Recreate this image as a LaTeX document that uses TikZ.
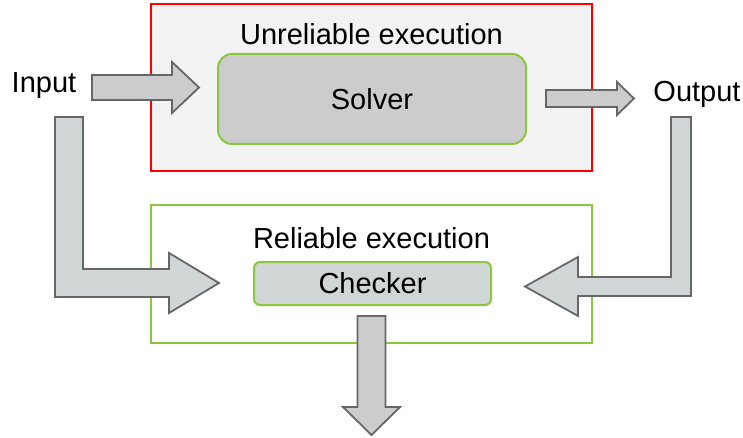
\documentclass[tikz,border=0pt]{standalone}
\usepackage{fontspec}
\setmainfont{Liberation Sans}
\definecolor{boxgray}{HTML}{F2F2F2}
\definecolor{solvergray}{HTML}{CCCCCC}
\definecolor{checkgray}{HTML}{D0D5D5}
\definecolor{lime}{HTML}{8CC63F}
\definecolor{edgegray}{HTML}{666666}
\tikzset{
  lbl/.style={font=\fontsize{29}{34}\selectfont, inner sep=0pt, anchor=base},
  region/.style={draw, inner sep=0pt},
  proc/.style={draw=lime, line width=2pt, inner sep=0pt, font=\fontsize{29}{34}\selectfont},
  blockarrow/.style={draw=edgegray, line width=1.8pt, line join=miter}
}
\begin{document}
\begin{tikzpicture}[x=1pt,y=-1pt]
\useasboundingbox[fill=white] (0,0) rectangle (743,438);
% regions
\node[region, draw=red, line width=1.8pt, fill=boxgray, minimum width=441pt, minimum height=167pt] (unrel) at (371.5,87.5) {};
\node[region, draw=lime, line width=1.5pt, minimum width=441pt, minimum height=138pt] (rel) at (371.5,274) {};
% titles
\node[lbl] (unreltitle) at (371.5,45) {Unreliable execution};
\node[lbl] (reltitle) at (371.5,248) {Reliable execution};
% processes
\node[proc, fill=solvergray, rounded corners=14pt, minimum width=308pt, minimum height=90pt] (solver) at (372,99) {Solver};
\node[proc, fill=checkgray, rounded corners=6pt, minimum width=237pt, minimum height=43pt] (checker) at (372.5,283.5) {Checker};
% io labels
\node[lbl] (input) at (44,93) {Input};
\node[lbl] (output) at (697,102) {Output};
% block arrows
\draw[blockarrow, fill=solvergray] (92,75) -- (172,75) -- (172,62) -- (199,87.5) -- (172,113) -- (172,100) -- (92,100) -- cycle;
\draw[blockarrow, fill=solvergray] (546,90) -- (617,90) -- (617,82) -- (634,98.5) -- (617,115) -- (617,107) -- (546,107) -- cycle;
\draw[blockarrow, fill=checkgray] (55,117) -- (83,117) -- (83,269) -- (169,269) -- (169,253) -- (219,283) -- (169,313) -- (169,297) -- (55,297) -- cycle;
\draw[blockarrow, fill=checkgray] (671,117) -- (691,117) -- (691,296) -- (578,296) -- (578,316) -- (525,286.5) -- (578,257) -- (578,277) -- (671,277) -- cycle;
\draw[blockarrow, fill=solvergray] (357.5,316) -- (385.5,316) -- (385.5,407) -- (400,407) -- (371.5,435) -- (343,407) -- (357.5,407) -- cycle;
\end{tikzpicture}
\end{document}
